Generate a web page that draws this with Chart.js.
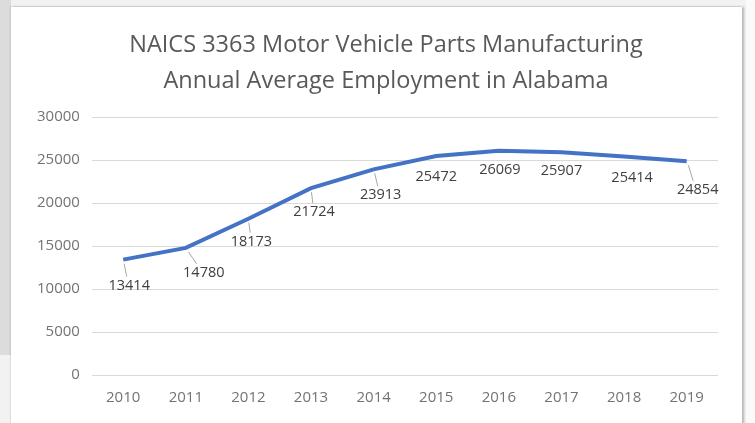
<!DOCTYPE html>
<html lang="en">
<head>
  <meta charset="UTF-8">
  <title>Motor Vehicle Parts Employment</title>
  <script src="https://cdn.jsdelivr.net/npm/chart.js"></script>
  <style>
    html, body { margin: 0; padding: 0; }
    body { width: 755px; height: 423px; background: #f2f2f2; position: relative; overflow: hidden; }
    .strip { position: absolute; left: 0; top: 0; width: 11px; height: 355px; background: #dcdcdc; }
    .card { position: absolute; left: 11px; top: 7px; width: 731px; height: 420px; background: #fff;
            box-shadow: 2px 0 2px rgba(0,0,0,0.25), -1px -1px 1px rgba(0,0,0,0.08); }
    .rightpad { position: absolute; left: 746px; top: 0; width: 9px; height: 423px; background: #fafafa; }
    canvas { position: absolute; left: 0; top: 0; }
  </style>
</head>
<body>
  <div class="strip"></div>
  <div class="rightpad"></div>
  <div class="card"></div>
  <canvas id="chart" width="755" height="423"></canvas>

  <script>
    const years = ['2010', '2011', '2012', '2013', '2014', '2015', '2016', '2017', '2018', '2019'];
    const employment = [13414, 14780, 18173, 21724, 23913, 25472, 26069, 25907, 25414, 24854];
    const yMax = 30000;
    const yStep = 5000;
    const titleLines = ['NAICS 3363 Motor Vehicle Parts Manufacturing', 'Annual Average Employment in Alabama'];

    // where each value label sits relative to its point (px); a leader line is drawn when it sits far away
    const labelOffsets = [[6, 26], [18, 25], [3, 23], [3, 24], [7, 26], [0, 21], [1, 19], [0, 19], [8, 21], [11, 29]];

    const fontFamily = '"Open Sans", "Noto Sans", sans-serif';

    // the title sits a bit right of the plot centre in the original, so it is drawn here
    const titleBlock = {
      id: 'titleBlock',
      afterDraw(chart) {
        const ctx = chart.ctx;
        ctx.save();
        ctx.font = '23.5px ' + fontFamily;
        ctx.fillStyle = '#595959';
        ctx.textAlign = 'center';
        ctx.textBaseline = 'middle';
        titleLines.forEach((line, i) => ctx.fillText(line, 386, 45 + i * 36));
        ctx.restore();
      }
    };

    const valueLabels = {
      id: 'valueLabels',
      afterDatasetsDraw(chart) {
        const ctx = chart.ctx;
        const meta = chart.getDatasetMeta(0);
        ctx.save();
        ctx.font = '14.5px ' + fontFamily;
        ctx.fillStyle = '#404040';
        ctx.textAlign = 'center';
        ctx.textBaseline = 'middle';
        meta.data.forEach((pt, i) => {
          const [dx, dy] = labelOffsets[i];
          const lx = pt.x + dx, ly = pt.y + dy;
          if (dy >= 23) {
            ctx.strokeStyle = '#a6a6a6';
            ctx.lineWidth = 1;
            ctx.beginPath();
            ctx.moveTo(pt.x + dx * 0.15, pt.y + 4);
            ctx.lineTo(pt.x + dx * 0.6, ly - 9);
            ctx.stroke();
          }
          ctx.fillText(String(employment[i]), lx, ly);
        });
        ctx.restore();
      }
    };

    new Chart(document.getElementById('chart').getContext('2d'), {
      type: 'line',
      data: {
        labels: years,
        datasets: [{
          data: employment,
          borderColor: '#4472c4',
          borderWidth: 4,
          pointRadius: 0,
          tension: 0,
          fill: false
        }]
      },
      options: {
        responsive: false,
        animation: false,
        layout: { padding: { left: 25, right: 37, top: 117, bottom: 10 } },
        plugins: {
          legend: { display: false },
          tooltip: { enabled: false },
          title: { display: false }
        },
        scales: {
          x: {
            offset: true,
            grid: { display: false },
            border: { display: false },
            ticks: { color: '#737373', font: { family: fontFamily, size: 15 }, padding: 6, maxRotation: 0 }
          },
          y: {
            min: 0,
            max: yMax,
            grid: { color: '#d9d9d9', lineWidth: 1, drawTicks: false },
            border: { display: false },
            ticks: {
              stepSize: yStep,
              color: '#737373',
              font: { family: fontFamily, size: 15 },
              padding: 12,
              callback: v => String(v)
            }
          }
        }
      },
      plugins: [valueLabels, titleBlock]
    });
  </script>
</body>
</html>
